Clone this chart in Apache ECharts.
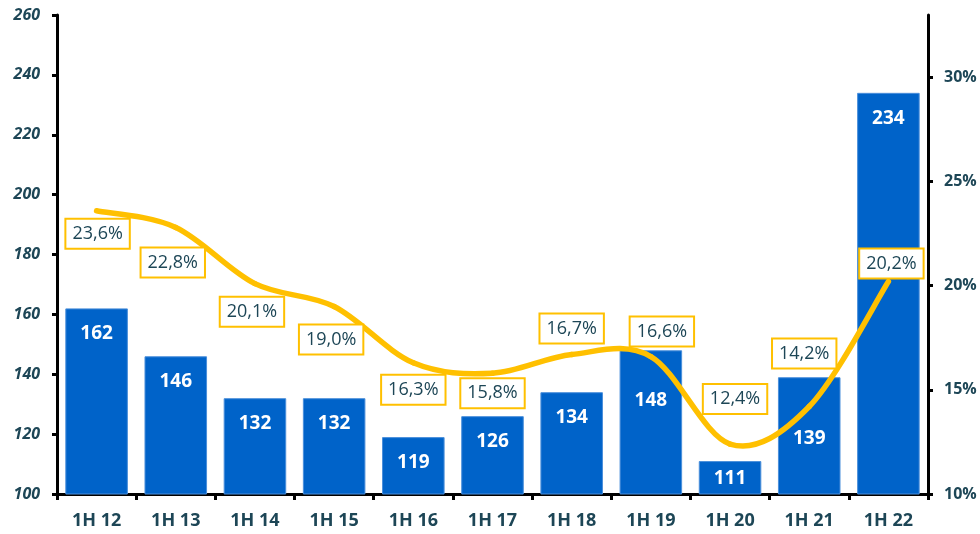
<!DOCTYPE html>
<html>
<head>
<meta charset="utf-8">
<script src="https://cdn.jsdelivr.net/npm/echarts@6/dist/echarts.min.js"></script>
<style>
  html, body { margin: 0; padding: 0; background: #fff; }
  #main { width: 980px; height: 534px; }
</style>
</head>
<body>
<div id="main"></div>
<script>
// data
var categories = ['1H 12', '1H 13', '1H 14', '1H 15', '1H 16', '1H 17', '1H 18', '1H 19', '1H 20', '1H 21', '1H 22'];
var barValues = [162, 146, 132, 132, 119, 126, 134, 148, 111, 139, 234];
var shareValues = [23.6, 22.8, 20.1, 19.0, 16.3, 15.8, 16.7, 16.6, 12.4, 14.2, 20.2];
var leftTicks = [100, 120, 140, 160, 180, 200, 220, 240, 260];
var rightTicks = [10, 15, 20, 25, 30];

var navy = '#1d4656';
var yellow = '#ffc000';

// where each percentage box sits relative to its point (dx, dy)
var labelShift = [[1, 23], [-3, 35], [-3, 28], [-3, 33], [0, 27], [0, 20], [0, -26], [11, -25], [5, -45], [-5, -53], [3, -18]];
// a few bar numbers were pushed down in the original, out of the curve's way
var barLabelDrop = [0, 0, 0, 0, 0, 0, 0, 25, -8, 36, 0];

var myChart = echarts.init(document.getElementById('main'));

// excel-like smoothed curve: one bezier piece from point i to i+1
var renderCurve = function(params, api) {
    var i = params.dataIndex;
    var n = shareValues.length;
    if (i >= n - 1) return null;
    var p = function(k) {
        k = Math.max(0, Math.min(n - 1, k));
        return api.coord([k, shareValues[k]]);
    };
    var p0 = p(i - 1), p1 = p(i), p2 = p(i + 1), p3 = p(i + 2);
    return {
        type: 'bezierCurve',
        shape: {
            x1: p1[0], y1: p1[1],
            x2: p2[0], y2: p2[1],
            cpx1: p1[0] + (p2[0] - p0[0]) / 6, cpy1: p1[1] + (p2[1] - p0[1]) / 6,
            cpx2: p2[0] - (p3[0] - p1[0]) / 6, cpy2: p2[1] - (p3[1] - p1[1]) / 6
        },
        style: { stroke: yellow, lineWidth: 5.5, fill: null, lineCap: 'round' }
    };
};

var curveData = [];
for (var i = 0; i < shareValues.length; i++) {
    curveData.push([i, shareValues[i]]);
}

var option = {
    animation: false,
    textStyle: { fontFamily: 'Open Sans' },
    grid: { left: 57, right: 52, top: 15, bottom: 40 },
    xAxis: {
        type: 'category',
        data: categories,
        axisLine: { lineStyle: { color: '#000', width: 3 } },
        axisTick: { show: true, alignWithLabel: false, length: 6, lineStyle: { color: '#000', width: 3 } },
        axisLabel: { color: navy, fontWeight: 'bold', fontSize: 18, margin: 18 }
    },
    yAxis: [{
        type: 'value',
        min: leftTicks[0],
        max: leftTicks[leftTicks.length - 1],
        interval: 20,
        splitLine: { show: false },
        axisLine: { show: true, lineStyle: { color: '#000', width: 3 } },
        axisTick: { show: true, length: 5, lineStyle: { color: '#000', width: 3 } },
        axisLabel: { color: navy, fontWeight: 'bold', fontStyle: 'italic', fontSize: 16, margin: 17 }
    }, {
        type: 'value',
        min: 10,
        max: 33,
        interval: 5,
        splitLine: { show: false },
        axisLine: { show: true, lineStyle: { color: '#000', width: 3 } },
        axisTick: { show: true, length: 5, customValues: rightTicks, lineStyle: { color: '#000', width: 3 } },
        axisLabel: {
            color: navy, fontWeight: 'bold', fontSize: 16, margin: 16,
            customValues: rightTicks,
            formatter: function(v) { return v + '%'; }
        }
    }],
    series: [{
        name: 'bars',
        type: 'bar',
        data: barValues,
        barCategoryGap: '21%',
        itemStyle: { color: '#0063c9', borderColor: '#4a8fdb', borderWidth: 1 },
        label: {
            show: true,
            position: 'insideTop',
            distance: 16,
            color: '#fff',
            fontWeight: 'bold',
            fontSize: 19
        },
        labelLayout: function(params) {
            return { dy: barLabelDrop[params.dataIndex], hideOverlap: false };
        }
    }, {
        name: 'curve',
        type: 'custom',
        yAxisIndex: 1,
        data: curveData,
        renderItem: renderCurve,
        clip: false,
        silent: true,
        z: 4
    }, {
        name: 'share',
        type: 'line',
        yAxisIndex: 1,
        data: shareValues,
        symbol: 'circle',
        symbolSize: 1,
        showSymbol: true,
        itemStyle: { color: 'rgba(0,0,0,0)' },
        lineStyle: { width: 0, opacity: 0 },
        label: {
            show: true,
            position: 'inside',
            color: navy,
            fontSize: 18,
            backgroundColor: '#fff',
            borderColor: yellow,
            borderWidth: 2,
            padding: [6, 6, 4, 6],
            formatter: function(p) { return p.value.toFixed(1).replace('.', ',') + '%'; }
        },
        labelLayout: function(params) {
            var s = labelShift[params.dataIndex];
            return { dx: s[0], dy: s[1], hideOverlap: false };
        },
        z: 5
    }]
};

myChart.setOption(option);
</script>
</body>
</html>
